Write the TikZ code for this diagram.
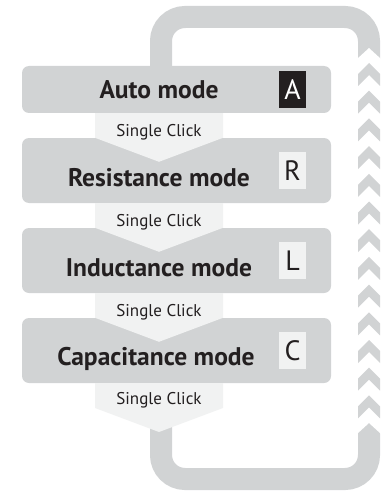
\documentclass[tikz,border=0pt]{standalone}
\usepackage{fontspec}
\setmainfont{PT Sans}
\usepackage{tikz}
\usetikzlibrary{calc}

\definecolor{loopgray}{HTML}{D1D3D4}
\definecolor{boxgray}{HTML}{D1D3D4}
\definecolor{clickgray}{HTML}{F1F2F2}
\definecolor{inkdark}{HTML}{231F20}

\begin{document}
\begin{tikzpicture}[x=1pt,y=-1pt,
        modebox/.style={fill=boxgray, rounded corners=7pt, minimum width=309pt, inner sep=0pt},
        modetext/.style={anchor=base, text=inkdark, font=\bfseries\fontsize{25.5}{25.5}\selectfont},
        clicktext/.style={anchor=base, text=inkdark, font=\fontsize{17}{17}\selectfont},
        badge/.style={minimum width=27pt, minimum height=37pt, inner sep=0pt, font=\fontsize{28}{28}\selectfont}]
    \useasboundingbox (0,0) rectangle (389,492);

    % the loop back to auto mode
    \draw[loopgray, line width=22pt, rounded corners=24pt] (161,17) rectangle (369,479);
    \fill[white] (357,59) -- (369,48) -- (381,59) -- (381,434) -- (369,423) -- (357,434) -- cycle;
    \foreach \k in {0,...,12}{
        \pgfmathsetmacro{\t}{63+27.7*\k}
        \fill[loopgray] (358,\t+11) -- (369,\t) -- (380,\t+11) -- (380,\t+23) -- (369,\t+12) -- (358,\t+23) -- cycle;
    }

    % mode boxes
    \node[modebox, minimum height=47pt] (auto) at (176.5,89.5) {};
    \node[modebox, minimum height=65pt] (res) at (176.5,170.5) {};
    \node[modebox, minimum height=65pt] (ind) at (176.5,260.5) {};
    \node[modebox, minimum height=65pt] (cap) at (176.5,350.5) {};

    % single click arrows
    \foreach \a/\b in {auto/res,res/ind,ind/cap}{
        \fill[clickgray] (95,0 |- \a.south) -- (223,0 |- \a.south) -- (223,0 |- \b.north)
            -- ($(159,0 |- \b.north)+(0,24)$) -- (95,0 |- \b.north) -- cycle;
        \node[clicktext] (click\a) at ($(159,0 |- \a.south)+(0,23)$) {Single Click};
    }
    \fill[clickgray] (95,0 |- cap.south) -- (223,0 |- cap.south) -- (223,408) -- (159,432) -- (95,408) -- cycle;
    \node[clicktext] (clickcap) at ($(159,0 |- cap.south)+(0,21)$) {Single Click};

    % mode names
    \node[modetext] (autotext) at (159,99) {Auto mode};
    \node[modetext] (restext) at (159,186) {Resistance mode};
    \node[modetext] (indtext) at (159,276) {Inductance mode};
    \node[modetext] (captext) at (156,365) {Capacitance mode};

    % mode letters
    \node[badge, fill=inkdark, text=white] (badgeA) at (auto -| 292.5,0) {A};
    \node[badge, fill=clickgray, text=inkdark] (badgeR) at (res -| 292.5,0) {R};
    \node[badge, fill=clickgray, text=inkdark] (badgeL) at (ind -| 292.5,0) {L};
    \node[badge, fill=clickgray, text=inkdark] (badgeC) at (cap -| 292.5,0) {C};
\end{tikzpicture}
\end{document}
